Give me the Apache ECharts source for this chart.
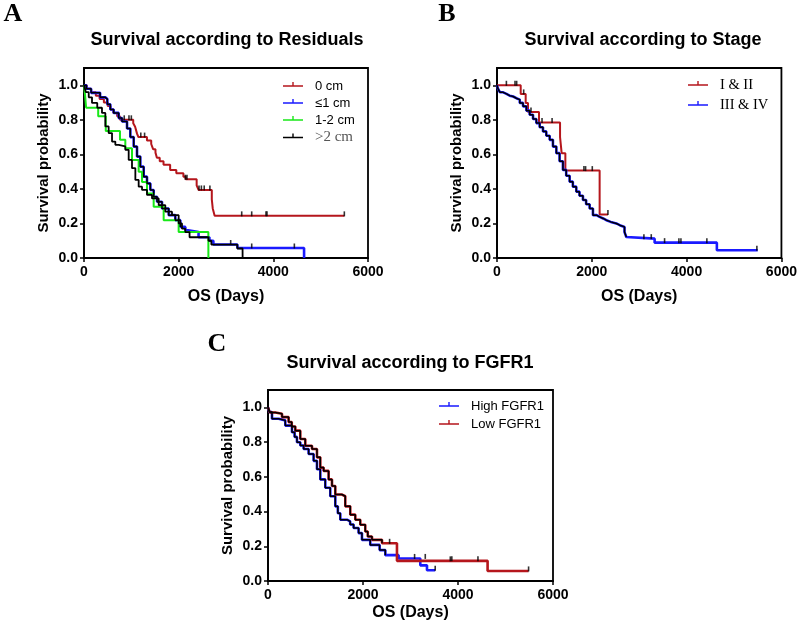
<!DOCTYPE html>
<html><head><meta charset="utf-8">
<script src="https://cdn.jsdelivr.net/npm/echarts@6/dist/echarts.min.js"></script>
<style>html,body{margin:0;padding:0;background:#fff}#c{width:800px;height:628px}</style>
</head><body><div id="c"></div>
<script>
// ---- axis ticks ----
const xTicks = [0, 2000, 4000, 6000];
const yTicks = [0, 0.2, 0.4, 0.6, 0.8, 1.0];

// ---- Panel A: Survival according to Residuals ([days, survival]) ----
const resid0 = [[0,1],[60,0.98],[150,0.96],[250,0.94],[330,0.92],[420,0.90],[500,0.88],[560,0.86],[620,0.84],[700,0.82],[760,0.80],[1040,0.78],[1080,0.76],[1120,0.72],[1150,0.70],[1330,0.68],[1420,0.66],[1460,0.63],[1510,0.61],[1540,0.58],[1600,0.56],[1680,0.54],[1820,0.51],[1950,0.49],[2100,0.47],[2150,0.456],[2380,0.42],[2420,0.394],[2700,0.34],[2720,0.287],[2760,0.244],[5500,0.244]];
const resid1 = [[0,1],[50,0.98],[150,0.956],[340,0.93],[450,0.92],[493,0.89],[556,0.86],[627,0.84],[733,0.81],[803,0.79],[909,0.75],[979,0.70],[1050,0.645],[1120,0.587],[1190,0.529],[1261,0.471],[1331,0.432],[1402,0.394],[1472,0.355],[1543,0.326],[1648,0.287],[1789,0.248],[1929,0.219],[2035,0.18],[2141,0.161],[2200,0.151],[2420,0.12],[2650,0.10],[2733,0.078],[3240,0.058],[4649,0.058],[4650,0]];
const resid12 = [[0,1],[20,0.95],[45,0.87],[300,0.82],[460,0.735],[760,0.684],[873,0.636],[1014,0.568],[1155,0.50],[1226,0.44],[1331,0.374],[1472,0.297],[1683,0.219],[2000,0.151],[2627,0.151],[2628,0]];
const resid2 = [[0,1],[40,0.96],[100,0.93],[169,0.898],[280,0.87],[380,0.84],[451,0.762],[521,0.723],[592,0.674],[662,0.655],[733,0.646],[873,0.626],[944,0.568],[1014,0.52],[1085,0.452],[1155,0.413],[1226,0.394],[1331,0.365],[1437,0.345],[1578,0.306],[1718,0.268],[1859,0.248],[2000,0.20],[2070,0.17],[2140,0.15],[2230,0.12],[2630,0.10],[2690,0.078],[3240,0.055],[3350,0.055],[3351,0]];
const resid0Cens = [[850,0.80],[950,0.80],[1000,0.80],[1200,0.70],[1280,0.70],[2140,0.456],[2175,0.456],[2430,0.394],[2480,0.394],[2540,0.394],[2660,0.394],[3332,0.244],[3543,0.244],[3845,0.244],[3866,0.244],[5500,0.244]];
const resid1Cens = [[3099,0.078],[3543,0.058],[4444,0.058]];

// ---- Panel B: Survival according to Stage ----
const stage12 = [[0,1],[500,0.95],[605,0.898],[654,0.845],[886,0.785],[1330,0.70],[1364,0.607],[1442,0.506],[2165,0.252],[2340,0.252]];
const stage34 = [[0,1],[20,0.98],[60,0.96],[120,0.95],[200,0.94],[267,0.935],[340,0.925],[408,0.917],[480,0.898],[549,0.878],[620,0.853],[689,0.829],[760,0.805],[830,0.781],[900,0.757],[970,0.733],[1040,0.708],[1111,0.684],[1180,0.645],[1252,0.607],[1320,0.56],[1391,0.51],[1460,0.476],[1532,0.442],[1600,0.413],[1673,0.384],[1740,0.36],[1813,0.336],[1880,0.311],[1954,0.287],[2024,0.248],[2100,0.238],[2165,0.229],[2240,0.219],[2306,0.209],[2400,0.2],[2517,0.19],[2590,0.18],[2690,0.15],[2728,0.122],[2763,0.112],[3325,0.089],[4638,0.045],[5500,0.045]];
const stage12Cens = [[198,1],[380,1],[415,1],[563,0.95],[717,0.845],[950,0.785],[1162,0.785],[1834,0.506],[1869,0.506],[2010,0.506],[2340,0.252]];
const stage34Cens = [[3099,0.112],[3254,0.112],[3535,0.089],[3837,0.089],[3880,0.089],[4427,0.089],[5482,0.045]];

// ---- Panel C: Survival according to FGFR1 ----
const fgfrHigh = [[0,1],[30,0.973],[84,0.934],[224,0.925],[364,0.895],[505,0.857],[560,0.83],[610,0.799],[680,0.78],[750,0.76],[855,0.731],[960,0.692],[1031,0.644],[1101,0.585],[1206,0.537],[1311,0.488],[1417,0.43],[1470,0.39],[1522,0.353],[1663,0.343],[1730,0.325],[1802,0.305],[1907,0.276],[1978,0.237],[2153,0.208],[2350,0.178],[2470,0.149],[2750,0.13],[3206,0.09],[3347,0.062],[3520,0.062]];
const fgfrLow = [[0,1],[40,0.97],[154,0.963],[295,0.944],[434,0.915],[500,0.89],[575,0.866],[680,0.818],[785,0.779],[926,0.76],[1031,0.712],[1101,0.653],[1171,0.634],[1276,0.585],[1347,0.547],[1417,0.498],[1558,0.488],[1627,0.43],[1732,0.382],[1838,0.353],[1943,0.324],[2048,0.285],[2100,0.256],[2189,0.237],[2400,0.217],[2715,0.116],[4623,0.058],[5486,0.058]];
const fgfrHighCens = [[3086,0.13],[3311,0.13],[3520,0.062]];
const fgfrLowCens = [[2560,0.217],[3838,0.116],[3870,0.116],[4420,0.116],[5486,0.058]];

// ---- legends ----
const legendA = ['0 cm', '≤1 cm', '1-2 cm', '>2 cm'];
const legendB = ['I & II', 'III & IV'];
const legendC = ['High FGFR1', 'Low FGFR1'];

const RED = '#b5161c', BLUE = '#1a1aff', GREEN = '#18e818', BLACK = '#000';
const SANS = 'Liberation Sans', SERIF = 'Liberation Serif';

const grids = [
  {left: 84, top: 68, width: 284, height: 190},
  {left: 497, top: 68, width: 285, height: 190},
  {left: 268, top: 390, width: 285, height: 191}
];
const nameGapsX = [31, 31, 24];

function xAxis(i){
  return {gridIndex:i, type:'value', min:0, max:6000, interval:2000,
    name:'OS (Days)', nameLocation:'middle', nameGap:nameGapsX[i],
    nameTextStyle:{fontFamily:SANS, fontWeight:'bold', fontSize:16, color:'#000'},
    axisLine:{show:true, onZero:false, lineStyle:{color:'#000', width:1.8}},
    axisTick:{show:true, length:4, lineStyle:{color:'#000', width:1.5}, customValues:xTicks},
    axisLabel:{fontFamily:SANS, fontWeight:'bold', fontSize:14, color:'#000', margin:7, customValues:xTicks,
      formatter: v => String(Math.round(v))},
    splitLine:{show:false}};
}
function yAxis(i){
  return {gridIndex:i, type:'value', min:0, max:1.1, interval:0.2,
    name:'Survival probability', nameLocation:'middle', nameGap:33,
    nameTextStyle:{fontFamily:SANS, fontWeight:'bold', fontSize:15, color:'#000'},
    axisLine:{show:true, onZero:false, lineStyle:{color:'#000', width:1.8}},
    axisTick:{show:true, length:4, lineStyle:{color:'#000', width:1.5}, customValues:yTicks},
    axisLabel:{fontFamily:SANS, fontWeight:'bold', fontSize:14, color:'#000', margin:6, customValues:yTicks,
      formatter: v => v.toFixed(1)},
    splitLine:{show:false}};
}

const series = [];
function km(name, data, color, i, width, z){
  series.push({name, type:'line', step:'end', data, xAxisIndex:i, yAxisIndex:i,
    symbol:'none', showSymbol:false, color, itemStyle:{color},
    lineStyle:{color, width: width||1.8}, z: z||2, silent:true});
}
function overlay(name, data, cutoff, i){
  series.push({name, type:'line', step:'end', data:data.filter(p=>p[0]<=cutoff), xAxisIndex:i, yAxisIndex:i,
    symbol:'none', showSymbol:false, color:BLACK, lineStyle:{color:BLACK, width:1.5}, z:3, silent:true});
}
function cens(name, data, i){
  series.push({name, type:'scatter', data, xAxisIndex:i, yAxisIndex:i,
    symbol:'rect', symbolSize:[1.6,5], symbolOffset:[0,-2], itemStyle:{color:BLACK}, z:5, silent:true});
}

// Panel A
km(legendA[0], resid0, RED, 0, 2);
km(legendA[1], resid1, BLUE, 0, 2.6);
overlay('resid1_ov', resid1, 2100, 0);
km(legendA[2], resid12, GREEN, 0, 2);
km(legendA[3], resid2, BLACK, 0, 1.8, 3);
cens('resid0_c', resid0Cens, 0);
cens('resid1_c', resid1Cens, 0);
// Panel B
km(legendB[0], stage12, RED, 1, 2);
km(legendB[1], stage34, BLUE, 1, 2.6);
overlay('stage34_ov', stage34, 2730, 1);
cens('stage12_c', stage12Cens, 1);
cens('stage34_c', stage34Cens, 1);
// Panel C
km(legendC[0], fgfrHigh, BLUE, 2, 2.6);
km(legendC[1], fgfrLow, RED, 2, 2.6);
overlay('high_ov', fgfrHigh, 2740, 2);
overlay('low_ov', fgfrLow, 2700, 2);
cens('high_c', fgfrHighCens, 2);
cens('low_c', fgfrLowCens, 2);

const ICON = 'path://M0,0h0.01v0.01h-0.01z M0,9.99h0.01v0.01h-0.01z M0,4.2h20v1.6h-20z M9.3,1h1.4v4h-1.4z';
function legend(names, left, top, gap, lh, extra){
  return {data: names.map(n => extra && extra[n] ? {name:n, textStyle:extra[n]} : {name:n}),
    orient:'vertical', left, top, itemWidth:20, itemHeight:10, itemGap:gap, padding:0,
    icon:ICON, selectedMode:false,
    textStyle:{fontFamily:SANS, fontSize:13, color:'#000', lineHeight:lh, padding:[0,0,0,7]}};
}

const letter = (t,x,y) => ({type:'text', x, y, style:{text:t, font:'bold 26px "Liberation Serif"', fill:'#000', textAlign:'center', textVerticalAlign:'middle'}});
const title = (t,x,y) => ({type:'text', x, y, style:{text:t, font:'bold 18px "Liberation Sans"', fill:'#000', textAlign:'center', textVerticalAlign:'middle'}});

const chart = echarts.init(document.getElementById('c'), null, {renderer:'canvas'});
chart.setOption({
  animation:false,
  backgroundColor:'#fff',
  grid: grids.map(g => Object.assign({show:true, borderColor:'#000', borderWidth:1.8, backgroundColor:'transparent', containLabel:false}, g)),
  xAxis: [0,1,2].map(xAxis),
  yAxis: [0,1,2].map(yAxis),
  legend: [
    legend(legendA, 283, 79, 3, 14, {'>2 cm': {fontFamily:SERIF, fontSize:15, color:'#555'}}),
    legend(legendB, 688, 77, 4, 16, {'I & II': {fontFamily:SERIF, fontSize:14.5}, 'III & IV': {fontFamily:SERIF, fontSize:14.5}}),
    legend(legendC, 439, 399, 4, 14)
  ],
  graphic: [
    letter('A', 13, 14), letter('B', 447, 14), letter('C', 217, 344),
    title('Survival according to Residuals', 227, 40),
    title('Survival according to Stage', 643, 40),
    title('Survival according to FGFR1', 410, 363)
  ],
  series
});
</script></body></html>
